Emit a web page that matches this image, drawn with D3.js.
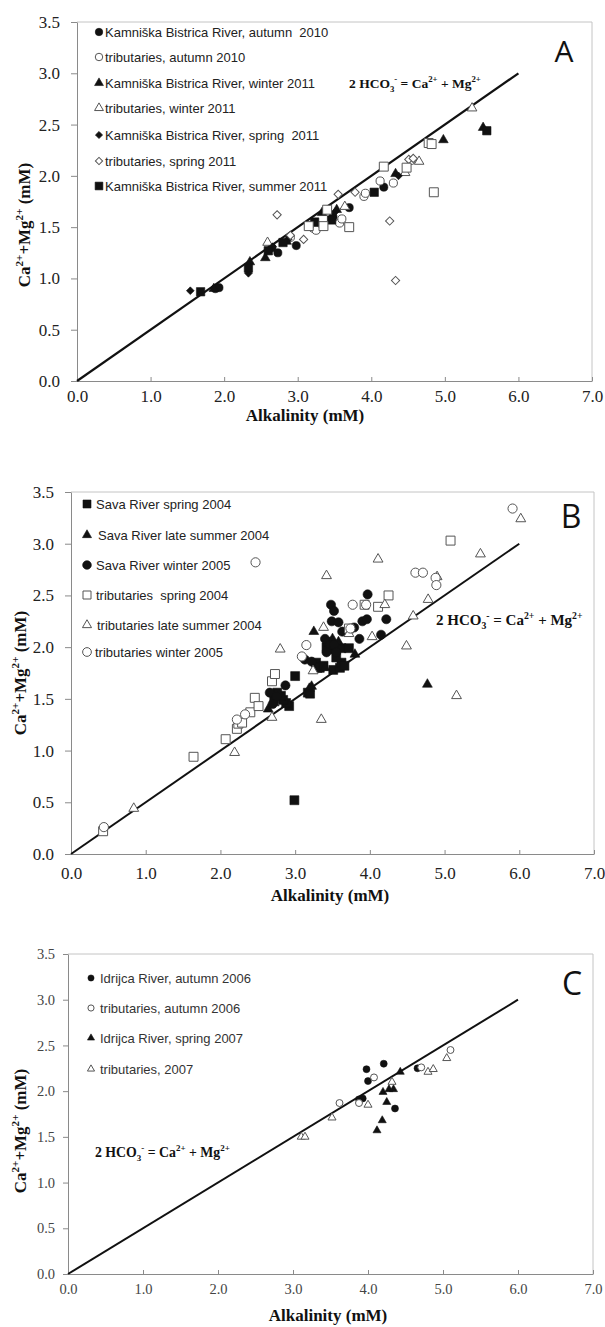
<!DOCTYPE html>
<html><head><meta charset="utf-8">
<script src="https://cdn.jsdelivr.net/npm/d3@7"></script>
<style>body{margin:0;background:#fff}svg{display:block}</style>
</head><body>
<svg id="chart" width="605" height="1327"></svg>
<script>
// ---------- shared axis definitions ----------
const xTicks = [0, 1, 2, 3, 4, 5, 6, 7];
const yTicks = [0, 0.5, 1, 1.5, 2, 2.5, 3, 3.5];
const refLine = [[0, 0], [6, 3]]; // 2 HCO3- = Ca2+ + Mg2+
const xTitle = "Alkalinity (mM)";

// ---------- Panel A : Kamniška Bistrica ----------
const aKbAutumn2010 = [[1.88,0.90],[1.93,0.91],[2.65,1.30],[2.73,1.25],[2.98,1.32],[3.48,1.60],[3.70,1.69],[4.17,1.89]];
const aTribAutumn2010 = [[2.90,1.40],[3.21,1.49],[3.25,1.47],[3.57,1.54],[3.60,1.58],[3.90,1.80],[3.92,1.83],[4.12,1.95],[4.30,1.93],[4.54,2.15]];
const aKbWinter2011 = [[1.86,0.90],[2.35,1.16],[2.56,1.20],[2.85,1.36],[3.33,1.64],[3.53,1.67],[4.33,2.02],[4.98,2.35],[5.52,2.47]];
const aTribWinter2011 = [[2.59,1.35],[3.64,1.70],[4.46,2.03],[4.65,2.14],[5.37,2.66]];
const aKbSpring2011 = [[1.54,0.88],[2.33,1.05],[2.66,1.31],[2.87,1.38],[3.51,1.65],[4.37,2.00]];
const aTribSpring2011 = [[2.72,1.62],[2.90,1.42],[3.08,1.38],[3.55,1.82],[3.78,1.84],[4.25,1.56],[4.33,0.98],[4.51,2.16],[4.57,2.17]];
const aKbSummer2011 = [[1.68,0.87],[2.33,1.10],[2.60,1.27],[2.80,1.35],[3.23,1.55],[3.46,1.57],[4.04,1.84],[5.57,2.44]];
const aTribSummer2011 = [[3.15,1.51],[3.35,1.51],[3.40,1.67],[3.70,1.50],[4.17,2.09],[4.48,2.08],[4.78,2.32],[4.82,2.31],[4.85,1.84]];
const aLegend = ["Kamniška Bistrica River, autumn  2010","tributaries, autumn 2010","Kamniška Bistrica River, winter 2011","tributaries, winter 2011","Kamniška Bistrica River, spring  2011","tributaries, spring 2011","Kamniška Bistrica River, summer 2011"];

// ---------- Panel B : Sava ----------
const bSavaSpring2004 = [[2.99,0.52],[3.00,1.72],[2.92,1.43],[2.88,1.46],[2.84,1.49],[2.81,1.53],[2.76,1.56],[2.72,1.50],[3.17,1.56],[3.20,1.55],[3.28,1.85],[3.30,1.80],[3.33,1.80],[3.38,1.82],[3.51,1.78],[3.60,1.80],[3.62,1.85],[3.66,1.82],[3.55,1.90],[3.50,1.98],[3.42,2.00],[3.45,2.05],[3.62,1.99],[3.72,1.99]];
const bSavaLateSummer2004 = [[3.25,2.15],[4.77,1.64],[2.64,1.40],[2.72,1.46],[3.19,1.60],[3.22,1.62],[3.40,1.80],[3.45,1.97],[3.50,2.08],[3.58,2.05],[3.80,1.93]];
const bSavaWinter2005 = [[3.97,2.51],[3.48,2.41],[3.52,2.35],[3.49,2.25],[3.58,2.24],[3.63,2.15],[3.79,2.19],[3.90,2.25],[3.96,2.27],[4.22,2.27],[4.15,2.12],[3.86,2.08],[3.40,2.08],[3.47,2.02],[3.52,2.02],[3.42,1.95],[3.55,1.95],[3.13,1.88],[3.22,1.86],[2.87,1.63],[2.66,1.56],[2.75,1.52],[2.70,1.45]];
const bTribSpring2004 = [[0.43,0.22],[1.64,0.94],[2.07,1.11],[2.22,1.21],[2.24,1.26],[2.29,1.27],[2.40,1.37],[2.46,1.51],[2.51,1.43],[2.69,1.67],[2.73,1.74],[3.72,2.18],[3.93,2.41],[4.11,2.39],[4.25,2.50],[5.08,3.03]];
const bTribLateSummer2004 = [[0.84,0.44],[2.19,0.98],[2.69,1.32],[3.35,1.30],[2.80,1.98],[3.24,1.77],[3.38,2.19],[3.42,2.69],[3.72,2.13],[4.03,2.10],[4.11,2.85],[4.20,2.41],[4.49,2.01],[4.58,2.30],[4.78,2.46],[4.90,2.68],[5.16,1.53],[5.48,2.90],[6.02,3.24]];
const bTribWinter2005 = [[0.44,0.26],[2.22,1.30],[2.33,1.35],[2.47,2.82],[3.09,1.91],[3.15,2.02],[3.74,2.18],[3.77,2.41],[3.95,2.41],[4.61,2.72],[4.71,2.72],[4.88,2.67],[4.89,2.60],[5.91,3.34]];
const bLegend = ["Sava River spring 2004","Sava River late summer 2004","Sava River winter 2005","tributaries  spring 2004","tributaries late summer 2004","tributaries winter 2005"];

// ---------- Panel C : Idrijca ----------
const cIdrAutumn2006 = [[3.98,2.24],[4.21,2.30],[4.00,2.11],[3.88,1.91],[3.93,1.92],[4.36,1.81],[4.66,2.25]];
const cTribAutumn2006 = [[4.08,2.15],[3.62,1.87],[3.88,1.87],[4.71,2.26],[5.10,2.45]];
const cIdrSpring2007 = [[4.43,2.21],[4.20,1.99],[4.28,2.02],[4.34,2.02],[4.25,1.88],[4.19,1.68],[4.12,1.57]];
const cTrib2007 = [[4.32,2.10],[4.00,1.85],[3.52,1.71],[3.11,1.50],[3.16,1.50],[4.80,2.21],[4.87,2.24],[5.05,2.36]];
const cLegend = ["Idrijca River, autumn 2006","tributaries, autumn 2006","Idrijca River, spring 2007","tributaries, 2007"];

// ---------- drawing ----------
const svg = d3.select("#chart");
const SERIF = "'Liberation Serif','Times New Roman',serif";
const SANS = "'Liberation Sans',Arial,sans-serif";

function symPath(shape, size) {
  const t = {circle: d3.symbolCircle, triangle: d3.symbolTriangle, square: d3.symbolSquare, diamond: d3.symbolSquare}[shape];
  return d3.symbol().type(t).size(size)();
}
function drawMarker(g, shape, size, filled, x, y, openStroke) {
  g.append("path")
    .attr("d", symPath(shape, size))
    .attr("transform", `translate(${x},${y})` + (shape === "diamond" ? " rotate(45)" : ""))
    .attr("fill", filled ? "#111" : "#fff")
    .attr("stroke", filled ? "#111" : openStroke)
    .attr("stroke-width", filled ? 0.6 : 1);
}
function richText(g, x, y, parts, fs, attrs) {
  const t = g.append("text").attr("x", x).attr("y", y).attr("font-size", fs);
  Object.entries(attrs || {}).forEach(([k, v]) => t.attr(k, v));
  let prev = 0;
  parts.forEach(p => {
    const shift = p.s === "sup" ? -0.42 * fs : p.s === "sub" ? 0.28 * fs : 0;
    const ts = t.append("tspan").attr("dy", shift - prev).text(p.t);
    if (p.s) ts.attr("font-size", fs * 0.65);
    prev = shift;
  });
  return t;
}
const eqParts = [{t:"2 HCO"},{t:"3",s:"sub"},{t:"-",s:"sup"},{t:" = Ca"},{t:"2+",s:"sup"},{t:" + Mg"},{t:"2+",s:"sup"}];
const yTitleParts = [{t:"Ca"},{t:"2+",s:"sup"},{t:"+Mg"},{t:"2+",s:"sup"},{t:" (mM)"}];

function panel(cfg) {
  const g = svg.append("g");
  const x = d3.scaleLinear().domain([0, 7]).range(cfg.xr);
  const y = d3.scaleLinear().domain([0, 3.5]).range(cfg.yr);
  // frame (top/right)
  g.append("path")
    .attr("d", `M${x(0)},${y(3.5)}H${x(7)}V${y(0)}`)
    .attr("fill", "none").attr("stroke", "#c4c4c4").attr("stroke-width", 1);
  // axes
  const ya = g.append("g").attr("transform", `translate(${x(0)},0)`)
    .call(d3.axisLeft(y).tickValues(yTicks).tickFormat(d3.format(".1f"))
      .tickSize(cfg.ytick).tickSizeOuter(0).tickPadding(cfg.ypad));
  const xa = g.append("g").attr("transform", `translate(0,${y(0)})`)
    .call(d3.axisBottom(x).tickValues(xTicks).tickFormat(d3.format(".1f"))
      .tickSize(-4).tickSizeOuter(0).tickPadding(cfg.xpad));
  [ya, xa].forEach(a => {
    a.select(".domain").attr("stroke", "#8a8a8a");
    a.selectAll(".tick line").attr("stroke", "#8a8a8a");
    a.selectAll("text").attr("font-family", SERIF).attr("font-size", cfg.tickFs).attr("fill", cfg.tickColor);
  });
  xa.selectAll(".tick text").attr("dy", null).attr("y", cfg.xpad).attr("dominant-baseline", "hanging");
  // reference line
  g.append("line")
    .attr("x1", x(refLine[0][0])).attr("y1", y(refLine[0][1]))
    .attr("x2", x(refLine[1][0])).attr("y2", y(refLine[1][1]))
    .attr("stroke", "#111").attr("stroke-width", cfg.lineW);
  // points
  cfg.series.forEach(s => {
    s.data.forEach(d => drawMarker(g, s.shape, s.size, s.filled, x(d[0]), y(d[1]), cfg.openStroke));
  });
  // legend
  cfg.legend.forEach((label, i) => {
    const s = cfg.series[i];
    const cy = cfg.legY[i];
    drawMarker(g, s.shape, s.lsize, s.filled, cfg.legMX, cy, cfg.openStroke);
    g.append("text").attr("x", Array.isArray(cfg.legTX) ? cfg.legTX[i] : cfg.legTX)
      .attr("y", cy + cfg.legFs * 0.36)
      .attr("font-family", SANS).attr("font-size", cfg.legFs).attr("fill", cfg.legColor)
      .style("white-space", "pre").text(label);
  });
  // equation
  richText(g, cfg.eq[0], cfg.eq[1], eqParts, cfg.eqFs,
    {"font-family": SERIF, "font-weight": "bold", "fill": "#111"});
  // panel letter
  g.append("text").attr("x", cfg.letter[0]).attr("y", cfg.letter[1])
    .attr("text-anchor", "middle").attr("font-family", "'Open Sans',sans-serif")
    .attr("font-size", cfg.letterFs).attr("fill", "#111").text(cfg.letterText);
  // axis titles
  g.append("text").attr("x", cfg.xt[0]).attr("y", cfg.xt[1])
    .attr("text-anchor", "middle").attr("font-family", SERIF).attr("font-weight", "bold")
    .attr("font-size", cfg.titleFs).attr("fill", "#111").text(xTitle);
  richText(g, 0, 0, yTitleParts, cfg.titleFs,
    {"font-family": SERIF, "font-weight": "bold", "fill": "#111", "text-anchor": "middle",
     "transform": `translate(${cfg.yt[0]},${cfg.yt[1]}) rotate(-90)`});
}

panel({
  xr: [77, 592], yr: [381, 22], ytick: 6, ypad: 11, xpad: 9, tickFs: 17, tickColor: "#222",
  lineW: 2.2, openStroke: "#555",
  series: [
    {data: aKbAutumn2010, shape: "circle", filled: true, size: 52, lsize: 44},
    {data: aTribAutumn2010, shape: "circle", filled: false, size: 52, lsize: 44},
    {data: aKbWinter2011, shape: "triangle", filled: true, size: 40, lsize: 34},
    {data: aTribWinter2011, shape: "triangle", filled: false, size: 40, lsize: 34},
    {data: aKbSpring2011, shape: "diamond", filled: true, size: 30, lsize: 26},
    {data: aTribSpring2011, shape: "diamond", filled: false, size: 34, lsize: 26},
    {data: aKbSummer2011, shape: "square", filled: true, size: 70, lsize: 60},
    {data: aTribSummer2011, shape: "square", filled: false, size: 80, lsize: 60}
  ],
  legend: aLegend, legY: [32, 57, 83, 108, 135, 161, 186], legMX: 99, legTX: 105, legFs: 13, legColor: "#222",
  eq: [349, 88], eqFs: 13.5,
  letter: [564, 62], letterFs: 30, letterText: "A",
  xt: [305, 421], yt: [30, 225], titleFs: 17
});

panel({
  xr: [71, 594], yr: [854, 492], ytick: 6, ypad: 11, xpad: 13, tickFs: 17, tickColor: "#222",
  lineW: 2, openStroke: "#555",
  series: [
    {data: bSavaSpring2004, shape: "square", filled: true, size: 80, lsize: 64},
    {data: bSavaLateSummer2004, shape: "triangle", filled: true, size: 42, lsize: 36},
    {data: bSavaWinter2005, shape: "circle", filled: true, size: 66, lsize: 60},
    {data: bTribSpring2004, shape: "square", filled: false, size: 80, lsize: 64},
    {data: bTribLateSummer2004, shape: "triangle", filled: false, size: 42, lsize: 36},
    {data: bTribWinter2005, shape: "circle", filled: false, size: 66, lsize: 60}
  ],
  legend: bLegend, legY: [504, 535, 565, 595, 625, 652], legMX: 87, legTX: [96, 98, 96, 96, 97, 95], legFs: 13, legColor: "#222",
  eq: [436, 625], eqFs: 15,
  letter: [571, 528], letterFs: 32, letterText: "B",
  xt: [330, 901], yt: [26, 673], titleFs: 17
});

panel({
  xr: [68, 593], yr: [1274, 954], ytick: 5, ypad: 8, xpad: 10, tickFs: 14.5, tickColor: "#444",
  lineW: 2, openStroke: "#555",
  series: [
    {data: cIdrAutumn2006, shape: "circle", filled: true, size: 38, lsize: 30},
    {data: cTribAutumn2006, shape: "circle", filled: false, size: 38, lsize: 30},
    {data: cIdrSpring2007, shape: "triangle", filled: true, size: 28, lsize: 22},
    {data: cTrib2007, shape: "triangle", filled: false, size: 28, lsize: 22}
  ],
  legend: cLegend, legY: [978, 1008, 1038, 1069], legMX: 91, legTX: 100, legFs: 13, legColor: "#333",
  eq: [95, 1157], eqFs: 13.8,
  letter: [572, 995], letterFs: 32, letterText: "C",
  xt: [328, 1321], yt: [26, 1131], titleFs: 17
});
</script>
</body></html>
